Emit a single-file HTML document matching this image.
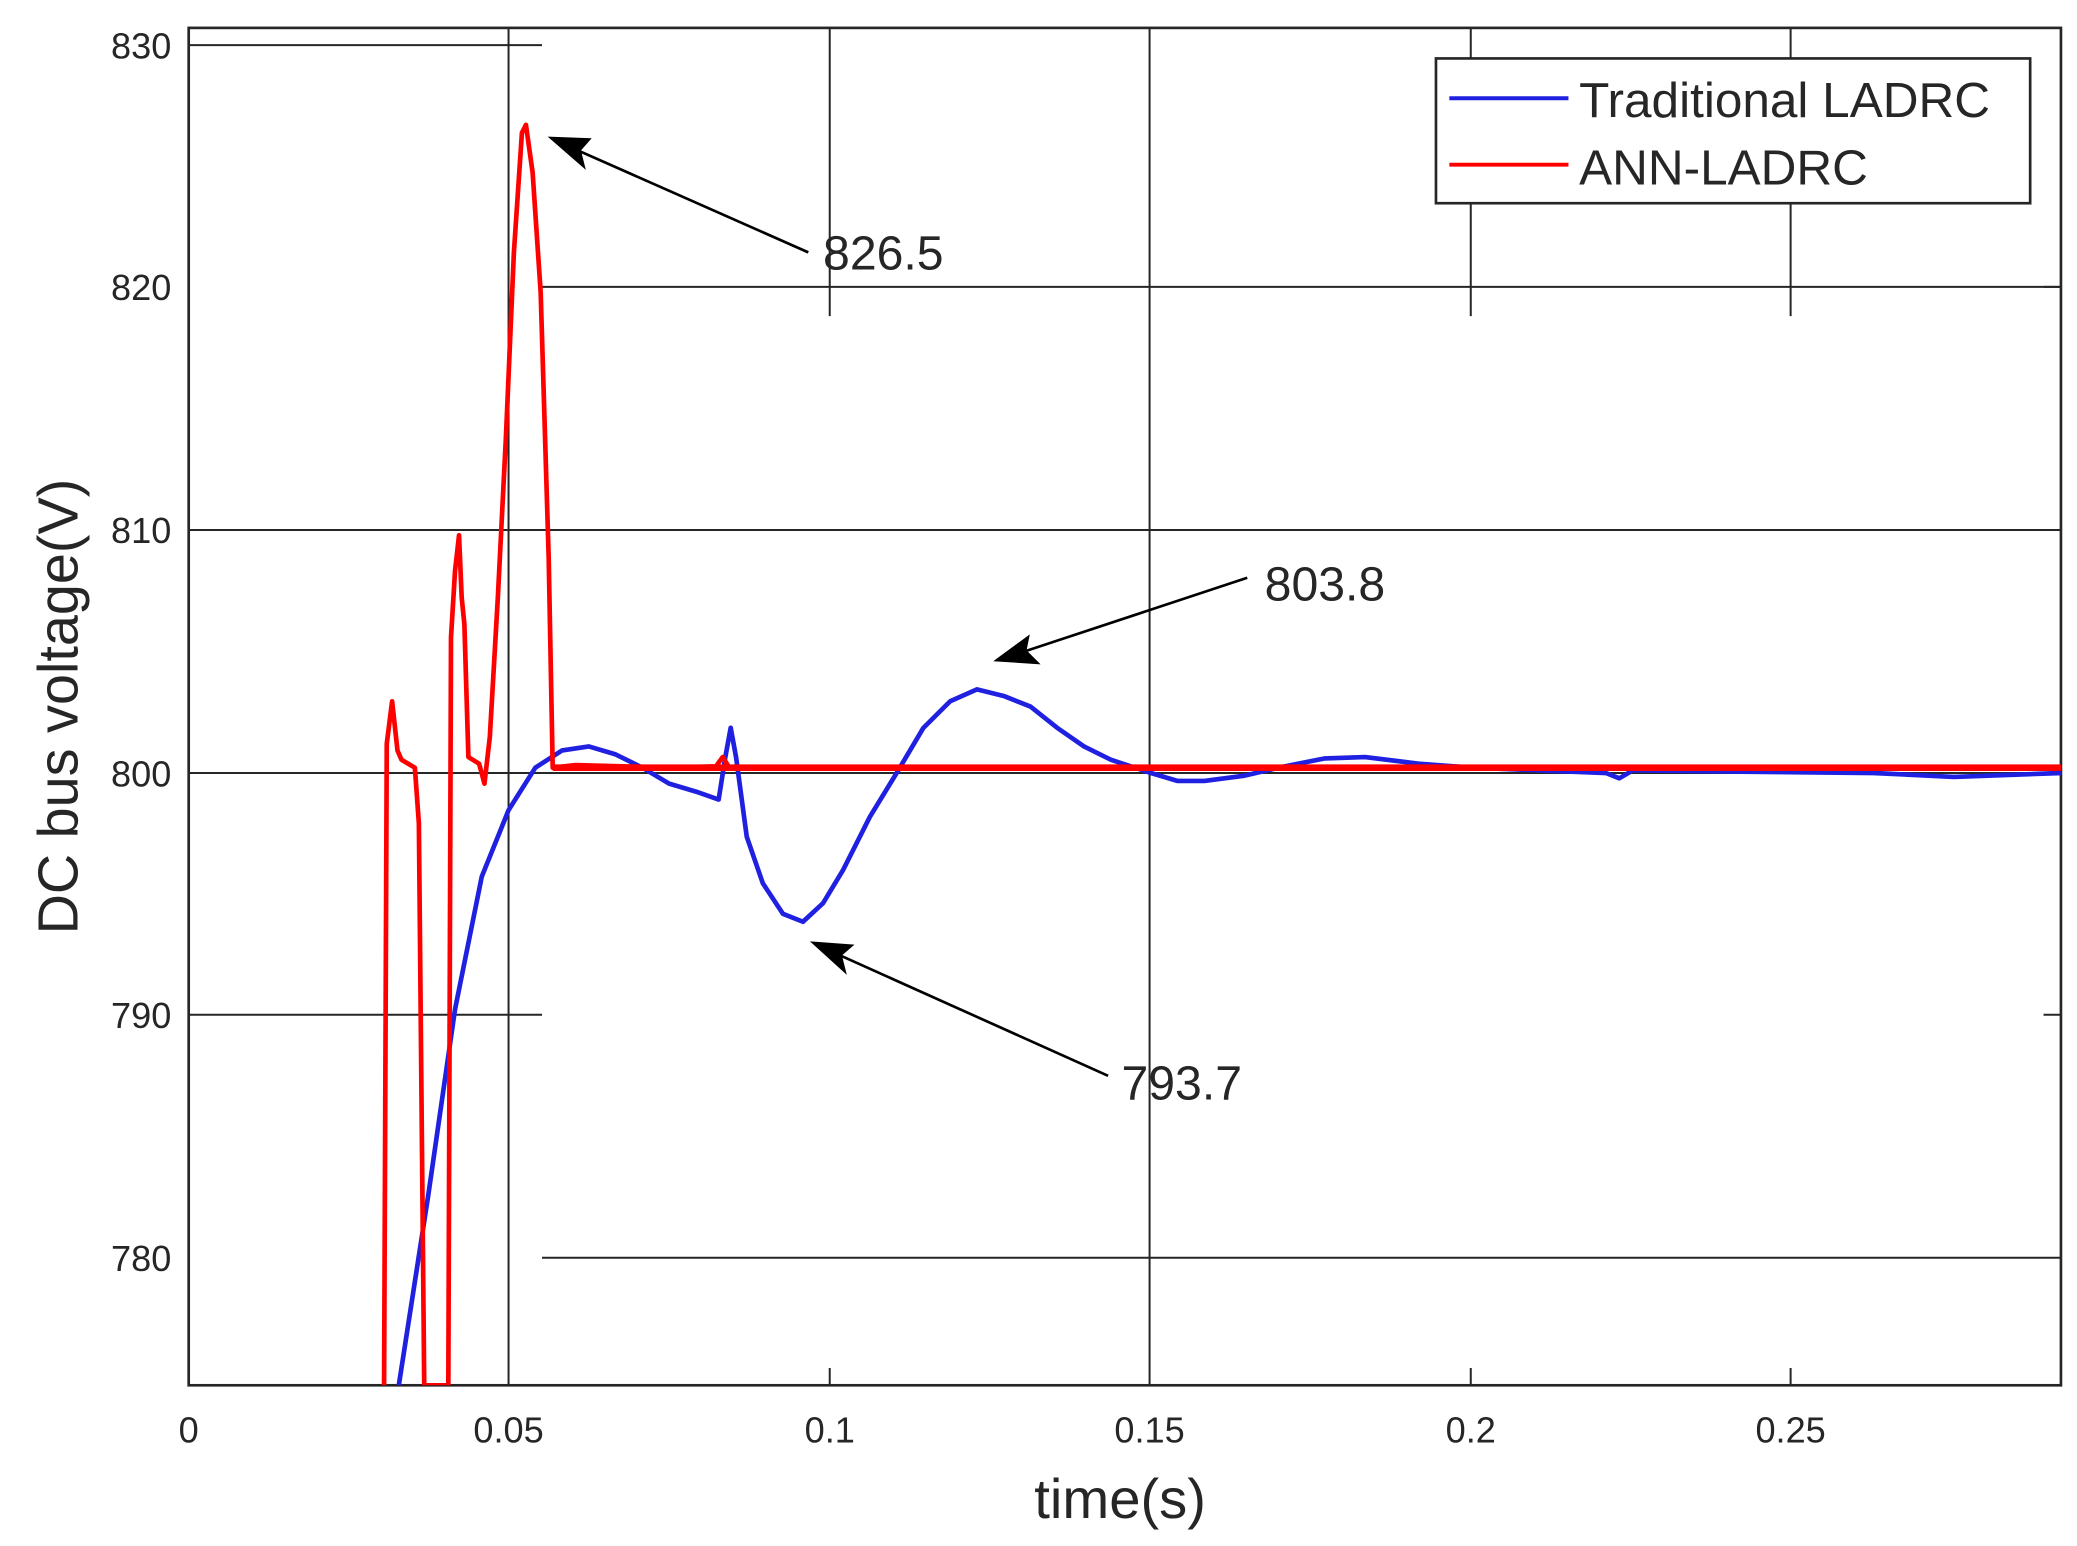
<!DOCTYPE html>
<html><head><meta charset="utf-8"><style>
html,body{margin:0;padding:0;background:#fff;}
svg{display:block;}
text{font-family:"Liberation Sans",Arial,sans-serif;fill:#262626;}
</style></head><body>
<svg width="2077" height="1546" viewBox="0 0 1552 1164" preserveAspectRatio="none" xmlns="http://www.w3.org/2000/svg">
<defs><clipPath id="c"><rect x="141" y="21" width="1399" height="1022"/></clipPath></defs>
<g stroke="#262626" stroke-width="1.5" fill="none">
<line x1="141" y1="34" x2="405" y2="34"/>
<line x1="405" y1="216" x2="1540" y2="216"/>
<line x1="141" y1="399" x2="1540" y2="399"/>
<line x1="141" y1="582" x2="1540" y2="582"/>
<line x1="141" y1="764" x2="405" y2="764"/>
<line x1="405" y1="947" x2="1540" y2="947"/>
<line x1="380" y1="21" x2="380" y2="1043"/>
<line x1="620" y1="21" x2="620" y2="238"/>
<line x1="859" y1="21" x2="859" y2="1043"/>
<line x1="1099" y1="21" x2="1099" y2="238"/>
<line x1="1338" y1="21" x2="1338" y2="238"/>
<line x1="620" y1="1043" x2="620" y2="1030"/><line x1="1099" y1="1043" x2="1099" y2="1030"/><line x1="1338" y1="1043" x2="1338" y2="1030"/>
<line x1="1540" y1="216" x2="1527" y2="216"/><line x1="1540" y1="764" x2="1527" y2="764"/>
</g>
<rect x="141" y="21" width="1399" height="1022" fill="none" stroke="#262626" stroke-width="2"/>
<g clip-path="url(#c)" fill="none" stroke-linejoin="round">
<polyline stroke="#2020e0" stroke-width="3.5" points="298,1043 320,900 340,760 360,660 380,610 400,578 420,565 440,562 460,568 480,578 500,590 520,596 537,602 542,570 546,548 550,570 558,630 570,665 585,688 600,694 615,680 630,655 650,615 670,582 690,548 710,528 730,519 750,524 770,532 790,548 810,562 830,572 860,582 880,588 900,588 930,584 960,577 990,571 1020,570 1060,575 1100,578 1200,582 1210,586 1220,580 1300,581 1400,582 1460,585 1540,582"/>
<polyline stroke="#ff0000" stroke-width="3.5" points="287,1043 289,560 293,528 297,565 300,572 305,575 310,578 313,620 317,1043 335,1043 337,480 340,430 343,403 345,450 347,470 350,570 358,575 362,590 366,555 372,450 378,330 384,190 390,100 393,94 398,130 404,220 410,420 413,578 430,576 500,578 535,577 540,570 545,578 700,578 1000,578 1540,578"/>
<line x1="413" y1="578" x2="1540" y2="578" stroke="#ff0000" stroke-width="5"/>
</g>
<g stroke="#000" stroke-width="2" fill="#000">
<line x1="604" y1="190" x2="420" y2="108"/>
<polygon points="412,104 440,105 433,113 436,125"/>
<line x1="932" y1="435" x2="755" y2="494"/>
<polygon points="745,497 768,480 766,490 775,499"/>
<line x1="828" y1="810" x2="616" y2="714"/>
<polygon points="608,710 636,712 628,719 631,731"/>
</g>
<text x="615" y="203" font-size="36" fill="#000">826.5</text>
<text x="945" y="452" font-size="36" fill="#000">803.8</text>
<text x="838" y="828" font-size="36" fill="#000">793.7</text>
<rect x="1073" y="44" width="444" height="109" fill="#fff" stroke="#262626" stroke-width="2"/>
<line x1="1083" y1="74" x2="1172" y2="74" stroke="#2020e0" stroke-width="3"/>
<line x1="1083" y1="124" x2="1172" y2="124" stroke="#ff0000" stroke-width="3"/>
<text x="1180" y="88" font-size="37" fill="#000">Traditional LADRC</text>
<text x="1180" y="139" font-size="37" fill="#000">ANN-LADRC</text>
<g font-size="27" text-anchor="end">
<text x="128" y="44">830</text><text x="128" y="226">820</text><text x="128" y="409">810</text>
<text x="128" y="592">800</text><text x="128" y="774">790</text><text x="128" y="957">780</text>
</g>
<g font-size="27" text-anchor="middle">
<text x="141" y="1086">0</text><text x="380" y="1086">0.05</text><text x="620" y="1086">0.1</text>
<text x="859" y="1086">0.15</text><text x="1099" y="1086">0.2</text><text x="1338" y="1086">0.25</text>
</g>
<text x="837" y="1143" font-size="42" text-anchor="middle">time(s)</text>
<text transform="translate(58,532) rotate(-90)" font-size="42" text-anchor="middle">DC bus voltage(V)</text>
</svg>
</body></html>
